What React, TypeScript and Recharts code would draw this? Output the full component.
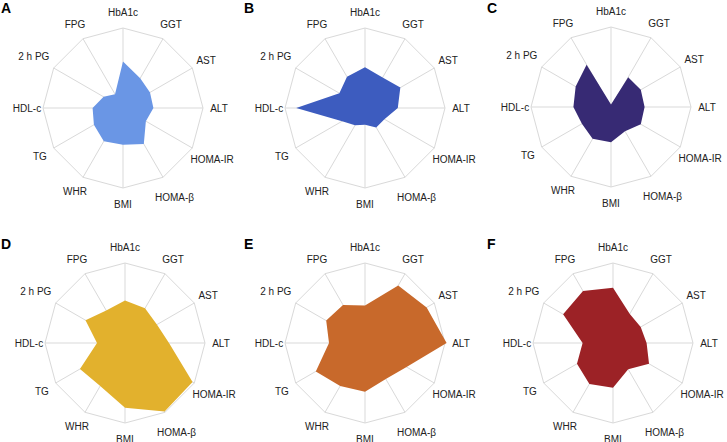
import { RadarChart, Radar, PolarGrid, PolarAngleAxis, PolarRadiusAxis } from 'recharts';

const markers = ['HbA1c', 'GGT', 'AST', 'ALT', 'HOMA-IR', 'HOMA-β', 'BMI', 'WHR', 'TG', 'HDL-c', '2 h PG', 'FPG'];

// values as share of the outer ring (0..1), clockwise from HbA1c
const clusterA = [0.58, 0.43, 0.39, 0.38, 0.33, 0.52, 0.46, 0.48, 0.42, 0.38, 0.28, 0.2];
const clusterB = [0.51, 0.44, 0.51, 0.41, 0.28, 0.28, 0.21, 0.25, 0.33, 0.86, 0.37, 0.45];
const clusterC = [0.03, 0.43, 0.43, 0.42, 0.43, 0.35, 0.44, 0.46, 0.42, 0.47, 0.51, 0.61];
const clusterD = [0.53, 0.5, 0.46, 0.55, 0.975, 0.99, 0.81, 0.62, 0.65, 0.35, 0.57, 0.47];
const clusterE = [0.47, 0.83, 0.89, 1.02, 0.6, 0.52, 0.61, 0.62, 0.71, 0.45, 0.56, 0.55];
const clusterF = [0.69, 0.42, 0.4, 0.42, 0.52, 0.38, 0.56, 0.59, 0.52, 0.38, 0.72, 0.75];

const data = markers.map((m, i) => ({
  marker: m,
  A: clusterA[i],
  B: clusterB[i],
  C: clusterC[i],
  D: clusterD[i],
  E: clusterE[i],
  F: clusterF[i],
}));

const panels = [
  { key: 'A', color: '#6a96e5', left: 0, top: 0, cx: 123, cy: 108 },
  { key: 'B', color: '#3d5cbf', left: 243, top: 0, cx: 122, cy: 108 },
  { key: 'C', color: '#372a74', left: 486, top: 0, cx: 125, cy: 107 },
  { key: 'D', color: '#e2b12d', left: 0, top: 221, cx: 125, cy: 122 },
  { key: 'E', color: '#c8692b', left: 243, top: 221, cx: 122, cy: 122 },
  { key: 'F', color: '#9c2226', left: 486, top: 221, cx: 127, cy: 122 },
];

const FONT = '"Liberation Sans", Arial, sans-serif';

function MarkerTick(props: any) {
  const { x, y, payload } = props;
  const a = (payload.coordinate * Math.PI) / 180;
  const extra = payload.value.length > 5 ? 7 : 0;
  return (
    <text
      x={x + extra * Math.cos(a)}
      y={y - extra * Math.sin(a)}
      dy="0.35em"
      textAnchor="middle"
      fontSize={10}
      fontFamily={FONT}
      fill="#222"
    >
      {payload.value}
    </text>
  );
}

export default function App() {
  return (
    <div style={{ position: 'absolute', left: 0, top: 0, width: 727, height: 442, background: '#fff' }}>
      {panels.map(p => (
        <div key={p.key} style={{ position: 'absolute', left: p.left, top: p.top, width: 241, height: 221 }}>
          <RadarChart width={241} height={221} data={data} cx={p.cx} cy={p.cy} outerRadius={80}
            startAngle={90} endAngle={-270}>
            <PolarGrid stroke="#d9d9d9" />
            <PolarRadiusAxis domain={[0, 1]} allowDataOverflow tickCount={5} tick={false} axisLine={false} />
            <PolarAngleAxis dataKey="marker" tickLine={false} axisLine={false} tickSize={16} tick={<MarkerTick />} />
            <Radar dataKey={p.key} fill={p.color} fillOpacity={1} stroke="none" isAnimationActive={false} />
          </RadarChart>
          <div style={{ position: 'absolute', left: 1, top: p.top === 0 ? 0 : 15, fontFamily: FONT, fontWeight: 700, fontSize: 14, lineHeight: '16px' }}>
            {p.key}
          </div>
        </div>
      ))}
    </div>
  );
}
